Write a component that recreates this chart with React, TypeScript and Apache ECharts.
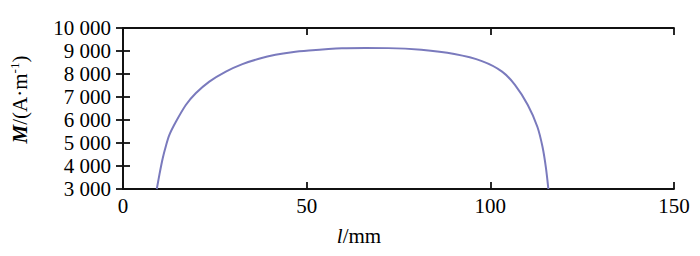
import React, { useEffect, useRef } from "react";
import * as echarts from "echarts";

// l / mm
const lValues = [
  9.2, 10.0, 10.8, 11.7, 12.6, 14.4, 17.1, 19.8, 23.5, 28.0, 32.5, 37.0, 41.5,
  46.0, 50.6, 59.6, 66.0, 72.2, 81.2, 90.2, 97.7, 103.2, 106.7, 110.2, 112.8,
  114.2, 115.1, 115.8,
];
// M / (A·m^-1)
const mValues = [
  3000, 3700, 4330, 4880, 5340, 5920, 6650, 7160, 7670, 8105, 8430, 8660, 8835,
  8950, 9020, 9115, 9130, 9125, 9050, 8865, 8560, 8105, 7525, 6650, 5705, 4835,
  3960, 3000,
];

const xMin = 0;
const xMax = 150;
const xStep = 50;
const yMin = 3000;
const yMax = 10000;
const yStep = 1000;

const fmtThousands = (v: number) =>
  String(v).replace(/\B(?=(\d{3})+(?!\d))/g, " ");

export default function App() {
  const ref = useRef<HTMLDivElement>(null);
  useEffect(() => {
    if (!ref.current) return;
    const chart = echarts.init(ref.current, undefined, { renderer: "svg" });
    const font = "Liberation Serif";
    const axisLine = { show: true, lineStyle: { color: "#111", width: 1.8 } };
    const tick = { show: true, inside: true, length: 7, lineStyle: { color: "#111", width: 1.8 } };
    chart.setOption({
      animation: false,
      backgroundColor: "#fff",
      textStyle: { fontFamily: font },
      grid: { left: 120, top: 28, right: 26, bottom: 67, containLabel: false },
      xAxis: [
        {
          type: "value",
          min: xMin,
          max: xMax,
          interval: xStep,
          position: "bottom",
          axisLine,
          axisTick: tick,
          splitLine: { show: false },
          axisLabel: {
            color: "#000",
            fontFamily: font,
            fontSize: 21,
            margin: 6,
          },
          name: "{i|l}{r|/mm}",
          nameLocation: "middle",
          nameGap: 36,
          nameTextStyle: {
            fontFamily: font,
            padding: [0, 79, 0, 0],
            rich: {
              i: { fontFamily: font, fontSize: 21, fontStyle: "italic", color: "#000" },
              r: { fontFamily: font, fontSize: 21, color: "#000" },
            },
          },
        },
        {
          type: "value",
          min: xMin,
          max: xMax,
          interval: xStep,
          position: "top",
          axisLine,
          axisTick: tick,
          splitLine: { show: false },
          axisLabel: { show: false },
        },
      ],
      yAxis: [
        {
          type: "value",
          min: yMin,
          max: yMax,
          interval: yStep,
          position: "left",
          axisLine,
          axisTick: tick,
          splitLine: { show: false },
          axisLabel: {
            color: "#000",
            fontFamily: font,
            fontSize: 21,
            margin: 12,
            formatter: (v: number) => fmtThousands(v),
          },
          name: "{b|M}{r|/(A·m}{s|-1}{r|)}",
          nameLocation: "middle",
          nameRotate: 90,
          nameGap: 92,
          nameTextStyle: {
            fontFamily: font,
            padding: [0, 0, 0, 18],
            rich: {
              b: { fontFamily: font, fontSize: 21, fontStyle: "italic", fontWeight: "bold", color: "#000" },
              r: { fontFamily: font, fontSize: 21, color: "#000" },
              s: { fontFamily: font, fontSize: 13, color: "#000", padding: [0, 0, 10, 0] },
            },
          },
        },
        {
          type: "value",
          min: yMin,
          max: yMax,
          interval: yStep,
          position: "right",
          axisLine,
          axisTick: tick,
          splitLine: { show: false },
          axisLabel: { show: false },
        },
      ],
      series: [
        {
          type: "line",
          data: lValues.map((x, i) => [x, mValues[i]]),
          smooth: 0.3,
          showSymbol: false,
          clip: true,
          lineStyle: { color: "#7a7abd", width: 2 },
        },
      ],
    });
    return () => chart.dispose();
  }, []);
  return (
    <div
      ref={ref}
      style={{ position: "absolute", left: 0, top: 0, width: 700, height: 256 }}
    />
  );
}
